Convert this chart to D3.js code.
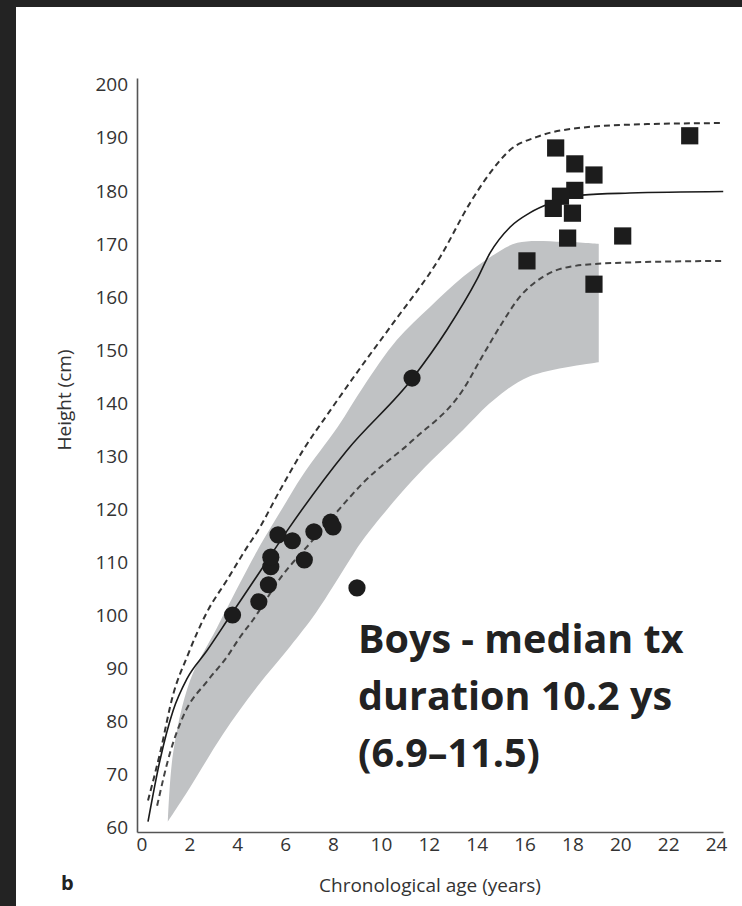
<!DOCTYPE html>
<html>
<head>
<meta charset="utf-8">
<script src="https://cdn.jsdelivr.net/npm/d3@7"></script>
<style>
  body { margin: 0; background: #fff; }
  svg { display: block; }
</style>
</head>
<body>
<svg id="chart" width="742" height="906"></svg>
<script>
// tick values
var ageTicks = [0, 2, 4, 6, 8, 10, 12, 14, 16, 18, 20, 22, 24];
var heightTicks = [60, 70, 80, 90, 100, 110, 120, 130, 140, 150, 160, 170, 180, 190, 200];

// patients at start of treatment (circles), [age, height]
var startPoints = [
  [3.8, 100], [4.9, 102.5], [5.3, 105.7], [5.4, 109.1], [5.4, 110.9],
  [5.7, 115.1], [6.3, 114.0], [6.8, 110.4], [7.2, 115.7], [7.9, 117.5],
  [8.0, 116.6], [9.0, 105.1], [11.3, 144.7]
];

// final heights (squares)
var finalPoints = [
  [17.3, 188.1], [18.1, 185.1], [18.9, 183.0], [18.1, 180.1], [17.5, 179.0],
  [17.2, 176.7], [18.0, 175.8], [17.8, 171.1], [20.1, 171.5], [16.1, 166.8],
  [18.9, 162.4], [22.9, 190.4]
];

// reference growth curves
var medianCurve = [
  [0.27, 61], [0.77, 72.6], [1.32, 82], [1.9, 88], [2.72, 93.2], [3.7, 99.8],
  [4.95, 108.2], [6.1, 116], [8.57, 131], [11.33, 144.7],
  [12.76, 153.8], [14.0, 163.2], [14.56, 168.3], [15.4, 173.2], [16.2, 175.8],
  [17.1, 177.7], [18.4, 179.2], [20.4, 179.6], [24.3, 179.9]
];
var upperCurve = [
  [0.27, 65], [0.77, 73.9], [1.32, 85], [1.9, 92.1], [2.74, 100.6], [3.57, 106.6],
  [4.41, 112.8], [4.82, 115.6], [5.79, 123.6], [6.75, 131.1], [7.87, 138.5],
  [9.2, 147], [10.5, 155], [12.47, 167.5], [13.72, 177.7], [14.56, 183.4],
  [15.39, 187.7], [16.52, 190.2], [18.32, 191.9], [21.12, 192.6], [24.3, 192.8]
];
var lowerCurve = [
  [0.65, 64], [1.19, 74], [1.8, 81.5], [2.74, 87.5], [3.57, 92.1], [4.11, 95.8],
  [4.66, 99.1], [5.79, 106.9], [7.17, 114.2], [8.17, 119.5], [9.25, 124.9],
  [11.34, 133], [13.43, 142.5], [14.26, 149], [15.05, 155], [15.8, 160],
  [16.77, 163.8], [17.9, 165.7], [19.7, 166.4], [24.3, 166.8]
];

// gray band of the treated group
var bandTop = [
  [1.1, 61], [1.32, 74], [2.03, 87.7], [3.15, 97.6], [4.82, 112], [5.8, 119.5],
  [6.75, 126.5], [8.2, 135.5], [9.26, 143], [10.67, 151.9], [12.05, 158.1],
  [13.43, 163.8], [14.56, 167.5], [15.7, 170.2], [17.6, 170.4], [19.1, 170]
];
var bandBottom = [
  [1.1, 61], [2.03, 67.5], [3.4, 77.5], [4.82, 86.4], [6.2, 94], [7.3, 100.5],
  [8.7, 110.4], [9.25, 114.2], [11.34, 125.5], [13.43, 134.9], [14.7, 140.5],
  [16.2, 145], [19.1, 147.7]
];

var noteLines = ["Boys - median tx", "duration 10.2 ys", "(6.9\u201311.5)"];

var svg = d3.select("#chart");

// dark frame of the screenshot
svg.append("rect").attr("x", 0).attr("y", 0).attr("width", 742).attr("height", 7).attr("fill", "#232323");
svg.append("rect").attr("x", 0).attr("y", 0).attr("width", 16).attr("height", 906).attr("fill", "#232323");

var x = d3.scaleLinear().domain([-0.19, 24.29]).range([137, 723]);
var y = d3.scaleLinear().domain([59.06, 201.3]).range([832, 78]);

var edge = d3.line()
  .x(d => x(d[0]))
  .y(d => y(d[1]))
  .curve(d3.curveCatmullRom);

// band: top edge left to right, down the right side, bottom edge back
var bandPath = edge(bandTop) + "L" + edge(bandBottom.slice().reverse()).slice(1) + "Z";
svg.append("path")
  .attr("d", bandPath)
  .attr("fill", "#c0c2c4");

var line = d3.line()
  .x(d => x(d[0]))
  .y(d => y(d[1]))
  .curve(d3.curveMonotoneX);

svg.append("path")
  .attr("d", line(upperCurve))
  .attr("fill", "none")
  .attr("stroke", "#333")
  .attr("stroke-width", 2)
  .attr("stroke-dasharray", "6,4");
svg.append("path")
  .attr("d", line(lowerCurve))
  .attr("fill", "none")
  .attr("stroke", "#444")
  .attr("stroke-width", 2)
  .attr("stroke-dasharray", "6,4");
svg.append("path")
  .attr("d", line(medianCurve))
  .attr("fill", "none")
  .attr("stroke", "#1a1a1a")
  .attr("stroke-width", 1.6);

/* axes, no tick marks */
var gx = svg.append("g")
  .attr("transform", "translate(0,832)")
  .call(d3.axisBottom(x).tickValues(ageTicks).tickSize(0).tickPadding(5));
var gy = svg.append("g")
  .attr("transform", "translate(137,0)")
  .call(d3.axisLeft(y).tickValues(heightTicks).tickSize(0).tickPadding(9));
[gx, gy].forEach(function(g) {
  g.select(".domain").attr("stroke", "#555").attr("stroke-width", 1.6);
  g.selectAll("text")
    .attr("font-family", "'Open Sans', sans-serif")
    .attr("font-size", 19)
    .attr("fill", "#333");
});

svg.selectAll("circle.start")
  .data(startPoints)
  .join("circle")
  .attr("class", "start")
  .attr("cx", d => x(d[0]))
  .attr("cy", d => y(d[1]))
  .attr("r", 8.6)
  .attr("fill", "#1c1c1c");

svg.selectAll("rect.final")
  .data(finalPoints)
  .join("rect")
  .attr("class", "final")
  .attr("x", d => x(d[0]) - 8.6)
  .attr("y", d => y(d[1]) - 8.6)
  .attr("width", 17.2)
  .attr("height", 17.2)
  .attr("fill", "#1c1c1c");

svg.append("text")
  .attr("x", 430)
  .attr("y", 892)
  .attr("text-anchor", "middle")
  .attr("font-family", "'Open Sans', sans-serif")
  .attr("font-size", 19)
  .attr("fill", "#333")
  .text("Chronological age (years)");

svg.append("text")
  .attr("transform", "translate(71,400) rotate(-90)")
  .attr("text-anchor", "middle")
  .attr("font-family", "'Open Sans', sans-serif")
  .attr("font-size", 19)
  .attr("fill", "#333")
  .text("Height (cm)");

svg.append("text")
  .attr("x", 61)
  .attr("y", 890)
  .attr("font-family", "'Open Sans', sans-serif")
  .attr("font-weight", "bold")
  .attr("font-size", 20)
  .attr("fill", "#222")
  .text("b");

svg.selectAll("text.note")
  .data(noteLines)
  .join("text")
  .attr("class", "note")
  .attr("x", 358)
  .attr("y", (d, i) => 653 + i * 57)
  .attr("font-family", "'Open Sans', sans-serif")
  .attr("font-weight", "bold")
  .attr("font-size", 39.5)
  .attr("fill", "#222")
  .text(d => d);
</script>
</body>
</html>
